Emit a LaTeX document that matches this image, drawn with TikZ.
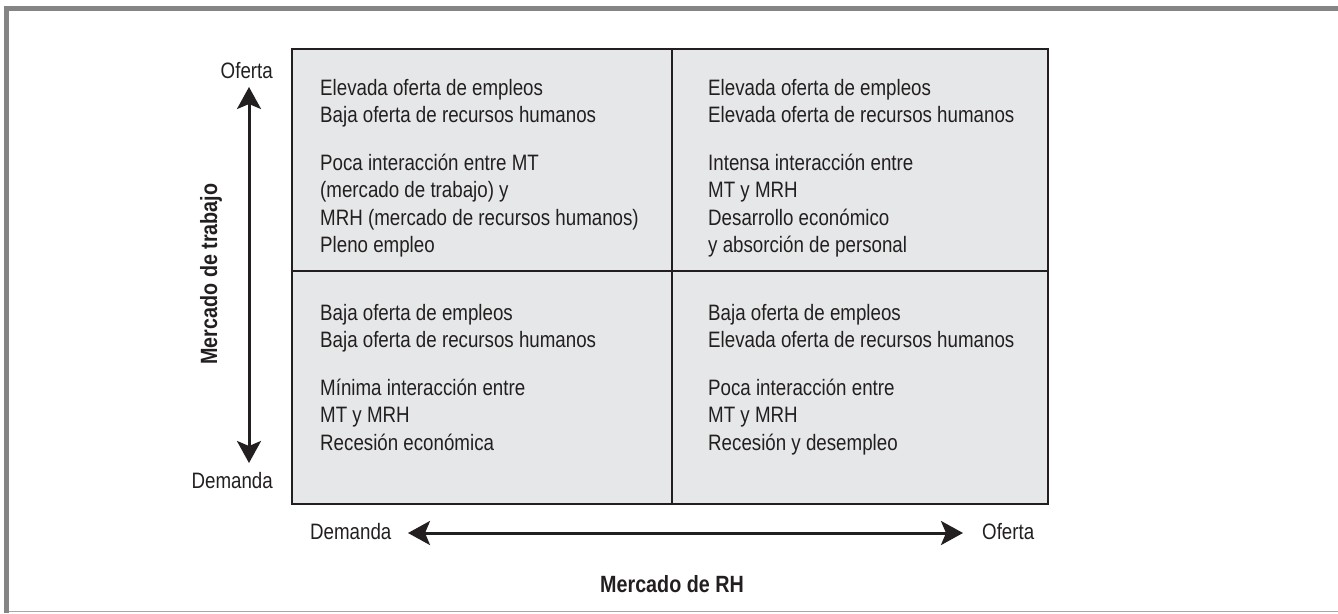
\documentclass[tikz,border=0pt]{standalone}
\usepackage{fontspec}
\setmainfont{Liberation Sans}[FakeStretch=0.84]
\usepackage{tikz}
\usetikzlibrary{arrows.meta,positioning}
\definecolor{mkInk}{HTML}{231F20}
\definecolor{mkFill}{HTML}{E6E7E8}
\definecolor{mkFrame}{HTML}{858585}
\definecolor{mkRule}{HTML}{A8A8A8}

\begin{document}
\begin{tikzpicture}[x=1pt, y=-1pt, font=\fontsize{22.3}{27.5}\selectfont, text=mkInk,
  cell line/.style={anchor=base west, inner sep=0pt},
  axis label/.style={inner sep=0pt},
  axis title/.style={inner sep=0pt, font=\fontsize{23.5}{28}\selectfont\bfseries},
  axis arrow/.style={mkInk, line width=3pt, {Stealth[length=22pt, width=24pt, inset=5pt]}-{Stealth[length=22pt, width=24pt, inset=5pt]}}]
\useasboundingbox (0,0) rectangle (1338,613);
% marco (barra gris arriba e izquierda, filete abajo)
\fill[mkFrame] (4,6) rectangle (1338,11);
\fill[mkFrame] (4,6) rectangle (9,613);
\draw[mkRule, line width=1.5pt] (9,611.5) -- (1338,611.5);
% matriz 2 x 2
\draw[mkInk, line width=2pt, fill=mkFill] (291.5,49) rectangle (1047.5,504);
\draw[mkInk, line width=2pt] (672,49) -- (672,504);
\draw[mkInk, line width=2pt] (291.5,271) -- (1047.5,271);
% textos de los cuadrantes (x = 320 / 708)
\foreach \y/\txt [count=\i] in {95/Elevada oferta de empleos, 122.5/Baja oferta de recursos humanos,
  170/Poca interacción entre MT, 197.5/(mercado de trabajo) y,
  225/MRH (mercado de recursos humanos), 252.5/Pleno empleo}
  \node[cell line] (tl\i) at (320,\y) {\txt};
\foreach \y/\txt [count=\i] in {95/Elevada oferta de empleos, 122.5/Elevada oferta de recursos humanos,
  170/Intensa interacción entre, 197.5/MT y MRH,
  225/Desarrollo económico, 252.5/y absorción de personal}
  \node[cell line] (tr\i) at (708,\y) {\txt};
\foreach \y/\txt [count=\i] in {320/Baja oferta de empleos, 347.5/Baja oferta de recursos humanos,
  395/Mínima interacción entre, 422.5/MT y MRH, 450/Recesión económica}
  \node[cell line] (bl\i) at (320,\y) {\txt};
\foreach \y/\txt [count=\i] in {320/Baja oferta de empleos, 347.5/Elevada oferta de recursos humanos,
  395/Poca interacción entre, 422.5/MT y MRH, 450/Recesión y desempleo}
  \node[cell line] (br\i) at (708,\y) {\txt};
% eje vertical: mercado de trabajo
\node[axis label, anchor=base east] (vOferta) at (273,78) {Oferta};
\node[axis label, anchor=base east] (vDemanda) at (273,488) {Demanda};
\coordinate (vTop) at (249,87);
\coordinate (vBot) at (249,463);
\draw[axis arrow] (vTop) -- (vBot);
\node[axis title, rotate=90, anchor=base] (vTitle) at (217,274) {Mercado de trabajo};
% eje horizontal: mercado de RH
\node[axis label, anchor=base west] (hDemanda) at (310,539) {Demanda};
\node[axis label, anchor=base west] (hOferta) at (982,539) {Oferta};
\coordinate (hLeft) at (408,533);
\coordinate (hRight) at (963,533);
\draw[axis arrow] (hLeft) -- (hRight);
\node[axis title, anchor=base] (hTitle) at (672,592) {Mercado de RH};
\end{tikzpicture}
\end{document}
